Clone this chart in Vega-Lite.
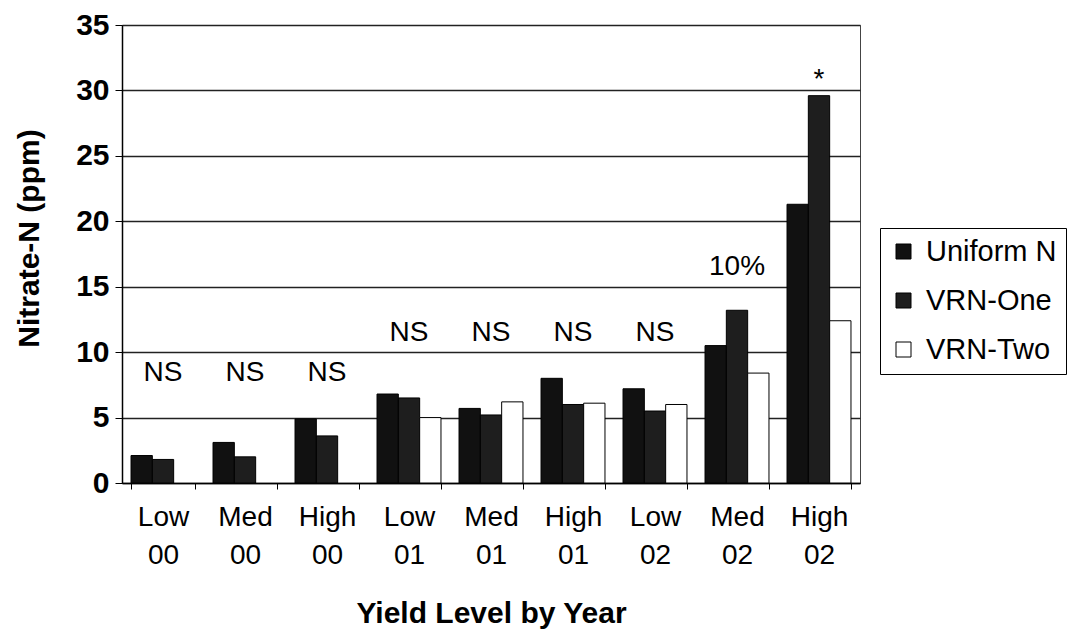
{
  "$schema": "https://vega.github.io/schema/vega-lite/v6.json",
  "width": 738,
  "height": 458,
  "autosize": {"type": "none"},
  "padding": {"left": 122, "top": 25, "right": 209, "bottom": 152},
  "background": "white",
  "config": {
    "font": "Liberation Sans",
    "view": {"stroke": "#444", "strokeWidth": 1}
  },
  "datasets": {
    "bars": [
      {"group": "Low 00", "series": "Uniform N", "nitrate": 2.1},
      {"group": "Low 00", "series": "VRN-One", "nitrate": 1.8},
      {"group": "Med 00", "series": "Uniform N", "nitrate": 3.1},
      {"group": "Med 00", "series": "VRN-One", "nitrate": 2.0},
      {"group": "High 00", "series": "Uniform N", "nitrate": 4.9},
      {"group": "High 00", "series": "VRN-One", "nitrate": 3.6},
      {"group": "Low 01", "series": "Uniform N", "nitrate": 6.8},
      {"group": "Low 01", "series": "VRN-One", "nitrate": 6.5},
      {"group": "Low 01", "series": "VRN-Two", "nitrate": 5.0},
      {"group": "Med 01", "series": "Uniform N", "nitrate": 5.7},
      {"group": "Med 01", "series": "VRN-One", "nitrate": 5.2},
      {"group": "Med 01", "series": "VRN-Two", "nitrate": 6.2},
      {"group": "High 01", "series": "Uniform N", "nitrate": 8.0},
      {"group": "High 01", "series": "VRN-One", "nitrate": 6.0},
      {"group": "High 01", "series": "VRN-Two", "nitrate": 6.1},
      {"group": "Low 02", "series": "Uniform N", "nitrate": 7.2},
      {"group": "Low 02", "series": "VRN-One", "nitrate": 5.5},
      {"group": "Low 02", "series": "VRN-Two", "nitrate": 6.0},
      {"group": "Med 02", "series": "Uniform N", "nitrate": 10.5},
      {"group": "Med 02", "series": "VRN-One", "nitrate": 13.2},
      {"group": "Med 02", "series": "VRN-Two", "nitrate": 8.4},
      {"group": "High 02", "series": "Uniform N", "nitrate": 21.3},
      {"group": "High 02", "series": "VRN-One", "nitrate": 29.6},
      {"group": "High 02", "series": "VRN-Two", "nitrate": 12.4}
    ],
    "notes": [
      {"group": "Low 00", "label": "NS", "pos": 8.4},
      {"group": "Med 00", "label": "NS", "pos": 8.4},
      {"group": "High 00", "label": "NS", "pos": 8.4},
      {"group": "Low 01", "label": "NS", "pos": 11.5},
      {"group": "Med 01", "label": "NS", "pos": 11.5},
      {"group": "High 01", "label": "NS", "pos": 11.5},
      {"group": "Low 02", "label": "NS", "pos": 11.5},
      {"group": "Med 02", "label": "10%", "pos": 16.5},
      {"group": "High 02", "label": "*", "pos": 30.8}
    ]
  },
  "layer": [
    {
      "data": {"name": "bars"},
      "mark": {"type": "bar", "stroke": "black", "strokeWidth": 1},
      "encoding": {
        "x": {
          "field": "group",
          "type": "nominal",
          "sort": ["Low 00", "Med 00", "High 00", "Low 01", "Med 01", "High 01", "Low 02", "Med 02", "High 02"],
          "scale": {"paddingInner": 0.22, "paddingOuter": 0.11},
          "axis": {
            "title": "Yield Level by Year",
            "titleFontSize": 30,
            "titleFontWeight": "bold",
            "titleColor": "black",
            "titleY": 139,
            "titleBaseline": "alphabetic",
            "labelAngle": 0,
            "labelExpr": "split(datum.label, ' ')",
            "labelFontSize": 28,
            "labelLineHeight": 38,
            "labelPadding": 14,
            "labelBaseline": "top",
            "labelColor": "black",
            "tickBand": "extent",
            "tickSize": 6,
            "tickColor": "black",
            "domainColor": "black",
            "domainWidth": 1.5,
            "grid": false
          }
        },
        "xOffset": {
          "field": "series",
          "type": "nominal",
          "sort": ["Uniform N", "VRN-One", "VRN-Two"],
          "scale": {"domain": ["Uniform N", "VRN-One", "VRN-Two"], "paddingInner": 0, "paddingOuter": 0}
        },
        "y": {
          "field": "nitrate",
          "type": "quantitative",
          "scale": {"domain": [0, 35], "nice": false},
          "axis": {
            "title": "Nitrate-N (ppm)",
            "values": [0, 5, 10, 15, 20, 25, 30, 35],
            "titleFontSize": 30,
            "titleFontWeight": "bold",
            "titleColor": "black",
            "titleAngle": -90,
            "titleX": -84,
            "titleY": 213,
            "titleAlign": "center",
            "titleBaseline": "alphabetic",
            "labelFontSize": 30,
            "labelFontWeight": "bold",
            "labelColor": "black",
            "labelPadding": 6,
            "tickSize": 7,
            "tickColor": "black",
            "domainColor": "black",
            "domainWidth": 1.5,
            "gridColor": "#222",
            "gridWidth": 1.5
          }
        },
        "fill": {
          "field": "series",
          "type": "nominal",
          "scale": {"domain": ["Uniform N", "VRN-One", "VRN-Two"], "range": ["#111111", "#1e1e1e", "#ffffff"]},
          "legend": {
            "title": null,
            "orient": "none",
            "legendX": 758,
            "legendY": 203,
            "labelFontSize": 29,
            "labelColor": "black",
            "labelOffset": 8,
            "symbolType": "square",
            "symbolSize": 225,
            "symbolStrokeColor": "black",
            "symbolStrokeWidth": 1,
            "symbolOpacity": 1,
            "strokeColor": "black",
            "fillColor": "white",
            "padding": 9,
            "rowPadding": 19
          }
        }
      }
    },
    {
      "data": {"name": "notes"},
      "mark": {"type": "text", "fontSize": 28, "color": "black", "baseline": "middle", "align": "center"},
      "encoding": {
        "x": {"field": "group", "type": "nominal", "sort": ["Low 00", "Med 00", "High 00", "Low 01", "Med 01", "High 01", "Low 02", "Med 02", "High 02"]},
        "y": {"field": "pos", "type": "quantitative"},
        "text": {"field": "label"}
      }
    }
  ]
}
